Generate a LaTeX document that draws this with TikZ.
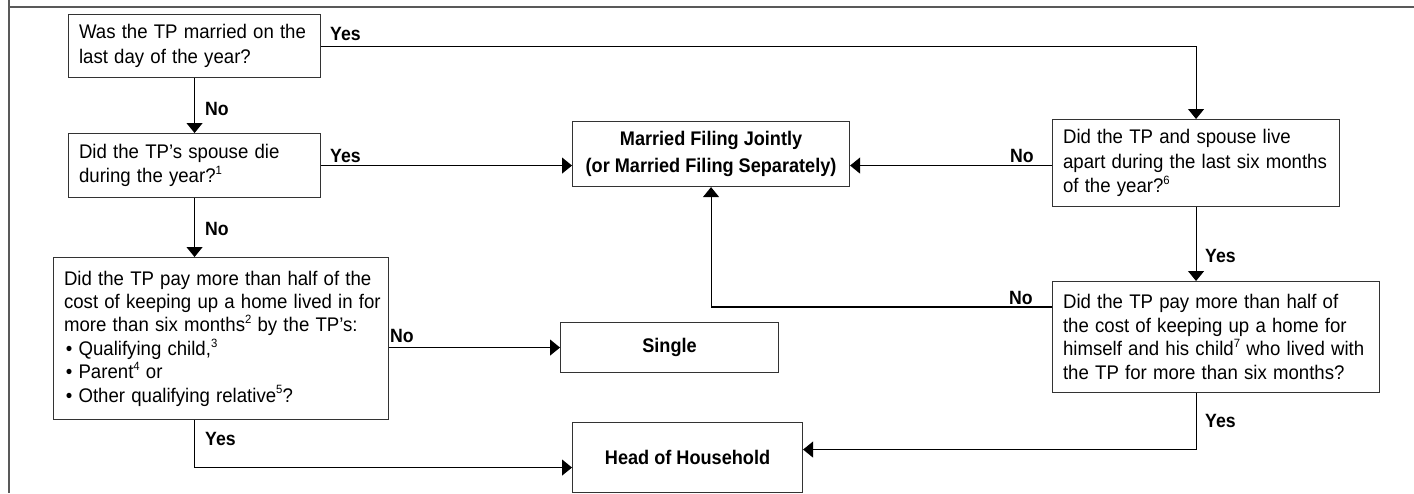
\documentclass[tikz,border=0pt]{standalone}
\usepackage{fontspec}
\usepackage{graphicx}
\setmainfont{Liberation Sans}
\usetikzlibrary{arrows.meta}
\newcommand\supx[1]{\raisebox{0.42em}{\fontsize{12}{12}\selectfont #1}}
\newcommand\bul{\hspace*{2pt}\textbullet\hspace{6.5pt}}
\newcommand\sxq[1]{\scalebox{0.945}[1]{#1}}
\newcommand\sbx[1]{\scalebox{0.92}[1]{#1}}
\begin{document}
\begin{tikzpicture}[x=1pt,y=-1pt,
  qbox/.style={draw=black!80, line width=1.1pt, anchor=north west, inner xsep=10.5pt, inner ysep=0pt,
    align=left, font=\fontsize{19.7}{24.5}\selectfont},
  rbox/.style={draw=black!80, line width=1.1pt, anchor=north west, inner sep=0pt,
    align=center, font=\bfseries\fontsize{19.7}{27}\selectfont},
  lbl/.style={anchor=base west, inner sep=0pt, font=\bfseries\fontsize{19.2}{20}\selectfont},
  conn/.style={line width=1.1pt, black},
  arr/.style={conn, -{Triangle[width=16pt,length=10pt]}}]
\useasboundingbox (0,0) rectangle (1414,493);
% frame
\draw[black!65, line width=2pt] (9,0) -- (9,493);
\draw[black!65, line width=2pt] (9,6.5) -- (1414,6.5);
% question boxes
\node[qbox, minimum width=252pt, minimum height=63pt, text width=231pt] (q1) at (68,14)
  {\sxq{Was the TP married on the}\\\sxq{last day of the year?}};
\node[qbox, minimum width=252pt, minimum height=64pt, text width=231pt] (q2) at (68,133)
  {\sxq{Did the TP’s spouse die}\\\sxq{during the year?\supx{1}}};
\node[qbox, minimum width=335pt, minimum height=162pt, text width=314pt,
  font=\fontsize{19.7}{23.4}\selectfont] (q3) at (53,257)
  {\sxq{Did the TP pay more than half of the}\\\sxq{cost of keeping up a home lived in for}\\\sxq{more than six months\supx{2} by the TP’s:}\\\sxq{\bul Qualifying child,\supx{3}}\\\sxq{\bul Parent\supx{4} or}\\\sxq{\bul Other qualifying relative\supx{5}?}};
\node[qbox, minimum width=287pt, minimum height=87pt, text width=266pt] (q4) at (1052,119)
  {\sxq{Did the TP and spouse live}\\\sxq{apart during the last six months}\\\sxq{of the year?\supx{6}}};
\node[qbox, minimum width=327pt, minimum height=111pt, text width=306pt,
  font=\fontsize{19.7}{23.7}\selectfont] (q5) at (1052,281)
  {\sxq{Did the TP pay more than half of}\\\sxq{the cost of keeping up a home for}\\\sxq{himself and his child\supx{7} who lived with}\\\sxq{the TP for more than six months?}};
% result boxes
\node[rbox, minimum width=277pt, minimum height=65pt] (mfj) at (572,121)
  {\sbx{Married Filing Jointly}\\\sbx{(or Married Filing Separately)}};
\node[rbox, minimum width=218pt, minimum height=50pt] (single) at (560,322) {\sbx{Single}};
\node[rbox, minimum width=230pt, minimum height=70pt] (hoh) at (572,422) {\sbx{Head of Household}};
% connectors
\draw[arr] (q1.south) -- (q2.north);
\draw[arr] (q1.east) -| (q4.north);
\draw[arr] (q2.east) -- (q2.east -| mfj.west);
\draw[arr] (q2.south) -- (q2.south |- q3.north);
\draw[arr] (q3.east |- single.west) -- (single.west);
\draw[arr] (q2.south |- q3.south) |- ([yshift=-10pt]hoh.west);
\draw[arr] (q4.west |- q2.east) -- (q2.east -| mfj.east);
\draw[arr] (q4.south) -- (q4.south |- q5.north);
\draw[arr] ([yshift=-26pt]q5.north west) -| (mfj.south);
\draw[arr] (q4.south |- q5.south) |- ([yshift=8pt]hoh.east);
% labels
\node[lbl] (l1) at (330,40) {\sbx{Yes}};
\node[lbl] (l2) at (205,115) {\sbx{No}};
\node[lbl] (l3) at (330,162) {\sbx{Yes}};
\node[lbl] (l4) at (205,235) {\sbx{No}};
\node[lbl] (l5) at (390,342) {\sbx{No}};
\node[lbl] (l6) at (205,445) {\sbx{Yes}};
\node[lbl] (l7) at (1010,162) {\sbx{No}};
\node[lbl] (l8) at (1205,262) {\sbx{Yes}};
\node[lbl] (l9) at (1009,304) {\sbx{No}};
\node[lbl] (l10) at (1205,427) {\sbx{Yes}};
\end{tikzpicture}
\end{document}
